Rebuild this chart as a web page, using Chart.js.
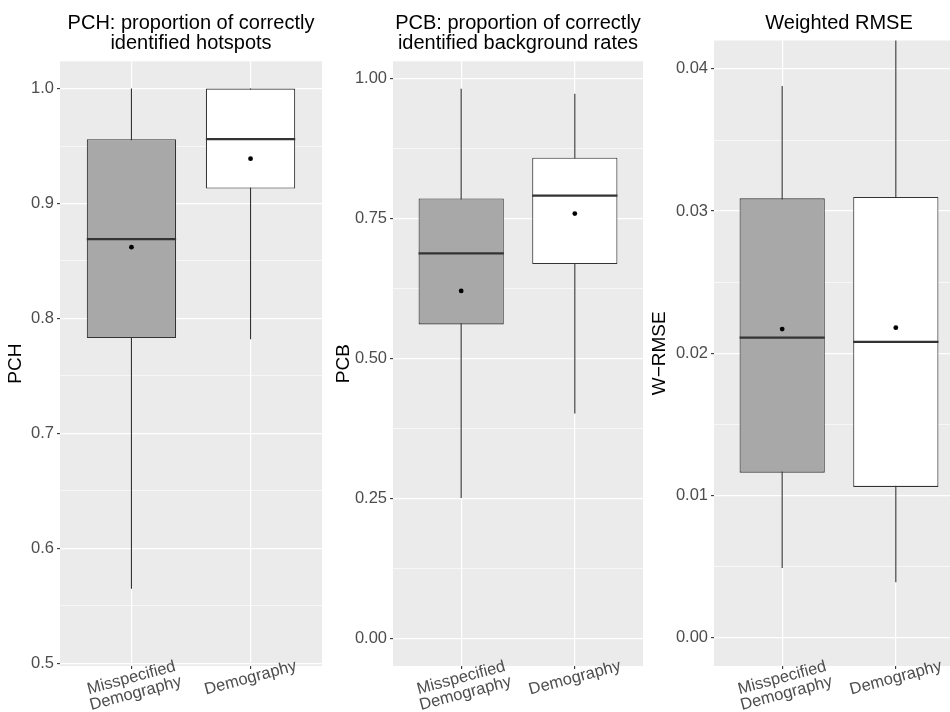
<!DOCTYPE html>
<html><head><meta charset="utf-8">
<script src="https://cdn.jsdelivr.net/npm/chart.js@4.4.1/dist/chart.umd.min.js"></script>
<style>
html,body{margin:0;padding:0;overflow:hidden;background:#fff;width:950px;height:712px;}
canvas{position:absolute;top:0;}
</style></head><body>
<canvas id="c1" width="322" height="712" style="left:0px"></canvas>
<canvas id="c2" width="321" height="712" style="left:322px"></canvas>
<canvas id="c3" width="321" height="712" style="left:643px"></canvas>
<script>
// ---- data ----
const categories = [["Misspecified", "Demography"], ["Demography"]];
const boxColors = ["#A8A8A8", "#FFFFFF"];

const pchTitle = ["PCH: proportion of correctly", "identified hotspots"];
const pchLow = [0.565, 0.782];
const pchQ1 = [0.783, 0.913];
const pchMedian = [0.869, 0.956];
const pchQ3 = [0.956, 1.000];
const pchHigh = [1.000, 1.000];
const pchMean = [0.862, 0.939];
const pchTicks = [0.5, 0.6, 0.7, 0.8, 0.9, 1.0];

const pcbTitle = ["PCB: proportion of correctly", "identified background rates"];
const pcbLow = [0.251, 0.402];
const pcbQ1 = [0.561, 0.669];
const pcbMedian = [0.688, 0.791];
const pcbQ3 = [0.786, 0.859];
const pcbHigh = [0.982, 0.973];
const pcbMean = [0.621, 0.759];
const pcbTicks = [0.00, 0.25, 0.50, 0.75, 1.00];

const rmseTitle = ["Weighted RMSE"];
const rmseLow = [0.0049, 0.0039];
const rmseQ1 = [0.0116, 0.0106];
const rmseMedian = [0.0211, 0.0208];
const rmseQ3 = [0.0309, 0.0310];
const rmseHigh = [0.0388, 0.0460];
const rmseMean = [0.0217, 0.0218];
const rmseTicks = [0.00, 0.01, 0.02, 0.03, 0.04];

// ---- rendering ----
const FONT = '"Liberation Sans", Arial, Helvetica, sans-serif';
Chart.defaults.font.family = FONT;

const panelBg = {
  id: 'panelBg',
  beforeDraw(chart) {
    const {ctx, chartArea: a} = chart;
    ctx.save();
    ctx.fillStyle = '#EBEBEB';
    ctx.fillRect(a.left, a.top, a.right - a.left, a.bottom - a.top);
    ctx.restore();
  }
};

const medianLines = {
  id: 'medianLines',
  afterDatasetDraw(chart, args) {
    const ds = chart.data.datasets[args.index];
    if (!ds.medians) return;
    const {ctx, chartArea: a} = chart;
    const y = chart.scales.y;
    ctx.save();
    ctx.beginPath();
    ctx.rect(a.left, a.top, a.right - a.left, a.bottom - a.top);
    ctx.clip();
    ctx.strokeStyle = '#333333';
    ctx.lineWidth = 2.2;
    args.meta.data.forEach((el, i) => {
      const py = y.getPixelForValue(ds.medians[i]);
      ctx.beginPath();
      ctx.moveTo(el.x - el.width / 2, py);
      ctx.lineTo(el.x + el.width / 2, py);
      ctx.stroke();
    });
    ctx.restore();
  }
};

const xLabels = {
  id: 'xLabels',
  afterDraw(chart) {
    const {ctx, chartArea: a} = chart;
    const x = chart.scales.x;
    ctx.save();
    ctx.fillStyle = '#4D4D4D';
    ctx.font = '16.5px ' + FONT;
    ctx.textAlign = 'center';
    ctx.textBaseline = 'middle';
    categories.forEach((lines, i) => {
      const px = x.getPixelForValue(i + 1);
      ctx.save();
      ctx.translate(px, a.bottom + 12);
      ctx.rotate(-15 * Math.PI / 180);
      lines.forEach((t, j) => ctx.fillText(t, 0, j * 16));
      ctx.restore();
    });
    ctx.restore();
  }
};

function boxChart(id, o) {
  const xs = categories.map((c, i) => i + 1);
  const minorStep = (o.ticks[1] - o.ticks[0]) / 2;
  return new Chart(document.getElementById(id), {
    type: 'bar',
    data: {
      datasets: [
        {
          type: 'bar', label: 'whisker',
          data: xs.map((x, i) => ({x: x, y: [o.low[i], o.high[i]]})),
          backgroundColor: '#333333', borderWidth: 0,
          maxBarThickness: 1.1, grouped: false, order: 3, clip: 0
        },
        {
          type: 'bar', label: 'box',
          data: xs.map((x, i) => ({x: x, y: [o.q1[i], o.q3[i]]})),
          medians: o.median,
          backgroundColor: boxColors, borderColor: '#333333', borderWidth: 1.1,
          borderSkipped: false, grouped: false, order: 2, clip: 0,
          barPercentage: 0.75, categoryPercentage: 1
        },
        {
          type: 'scatter', label: 'mean',
          data: xs.map((x, i) => ({x: x, y: o.mean[i]})),
          pointRadius: 2.4, pointBackgroundColor: '#000000', pointBorderWidth: 0,
          order: 1
        }
      ]
    },
    options: {
      responsive: false, animation: false, devicePixelRatio: 1,
      layout: {padding: 0, autoPadding: false},
      plugins: {
        legend: {display: false}, tooltip: {enabled: false},
        title: {
          display: true, text: o.title, fullSize: false, color: '#000000',
          font: {size: 20, weight: 'normal', lineHeight: 1.04},
          padding: {top: 12.7, bottom: 7}
        }
      },
      scales: {
        x: {
          type: 'linear', min: 0.4, max: 2.6, offset: false,
          afterBuildTicks: s => { s.ticks = xs.map(v => ({value: v})); },
          ticks: {display: false},
          grid: {offset: false, color: '#FFFFFF', lineWidth: 1.2, drawTicks: true, tickLength: 3, tickColor: '#333333', tickWidth: 1.1},
          border: {display: false},
          afterFit: s => { s.height = 46; }
        },
        y: {
          type: 'linear', min: o.min, max: o.max,
          afterBuildTicks: s => {
            const t = [];
            o.ticks.forEach((v, i) => {
              t.push({value: v});
              if (i < o.ticks.length - 1) t.push({value: v + minorStep, minor: true});
            });
            if (o.ticks[0] - minorStep >= o.min) t.unshift({value: o.ticks[0] - minorStep, minor: true});
            const last = o.ticks[o.ticks.length - 1];
            if (last + minorStep <= o.max) t.push({value: last + minorStep, minor: true});
            s.ticks = t;
          },
          ticks: {
            autoSkip: false, color: '#4D4D4D', font: {size: 16.5}, padding: 3,
            callback: (v, i, t) => t[i].minor ? '' : Number(v).toFixed(o.dec)
          },
          grid: {
            color: '#FFFFFF',
            lineWidth: c => (c.tick && c.tick.minor) ? 0.6 : 1.2,
            tickColor: c => (c.tick && c.tick.minor) ? 'rgba(0,0,0,0)' : '#333333',
            tickLength: 3, tickWidth: 1.1
          },
          border: {display: false},
          title: {display: true, text: o.yTitle, color: '#000000', font: {size: 19}, padding: {top: o.titlePad, bottom: 0}},
          afterFit: s => { s.width = o.yWidth; }
        }
      }
    },
    plugins: [panelBg, medianLines, xLabels]
  });
}

boxChart('c1', {title: pchTitle, yTitle: 'PCH', low: pchLow, q1: pchQ1, median: pchMedian, q3: pchQ3, high: pchHigh, mean: pchMean,
  ticks: pchTicks, dec: 1, min: 0.4977, max: 1.0237, yWidth: 60, titlePad: 4.6});
boxChart('c2', {title: pcbTitle, yTitle: 'PCB', low: pcbLow, q1: pcbQ1, median: pcbMedian, q3: pcbQ3, high: pcbHigh, mean: pcbMean,
  ticks: pcbTicks, dec: 2, min: -0.0491, max: 1.0311, yWidth: 71, titlePad: 10.6});
boxChart('c3', {title: rmseTitle, yTitle: 'W\u2212RMSE', low: rmseLow, q1: rmseQ1, median: rmseMedian, q3: rmseQ3, high: rmseHigh, mean: rmseMean,
  ticks: rmseTicks, dec: 2, min: -0.0020, max: 0.0420, yWidth: 71, titlePad: 5.6});
</script>
</body></html>
